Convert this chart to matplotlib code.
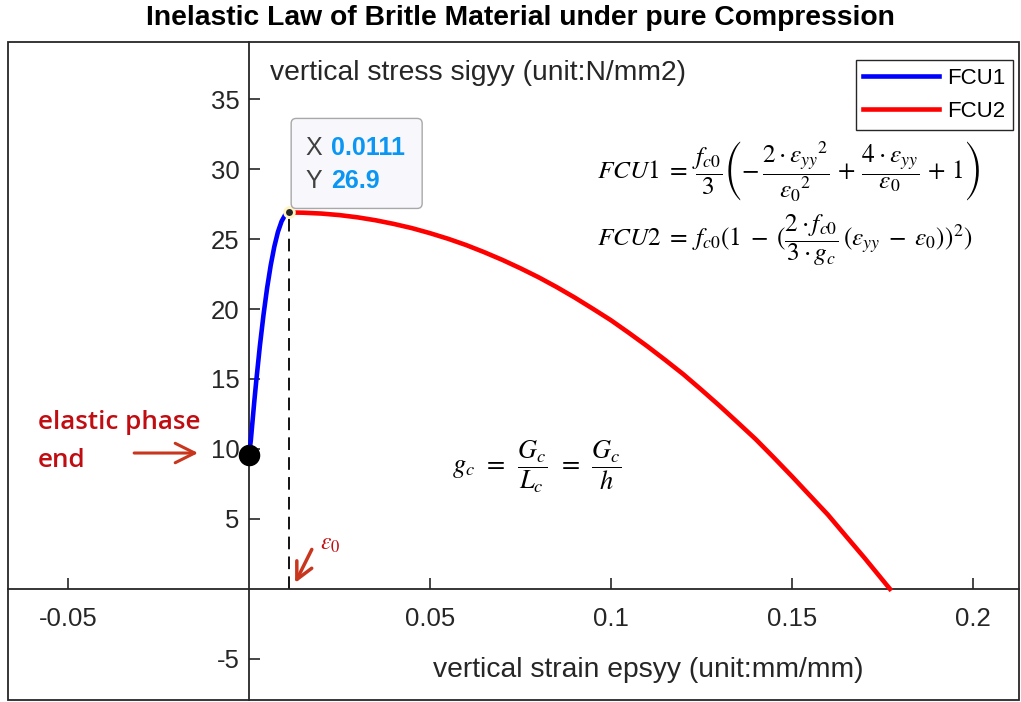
import matplotlib
matplotlib.use("Agg")
import matplotlib.pyplot as plt
import matplotlib.transforms as mtransforms
from matplotlib.patches import FancyBboxPatch, Rectangle

plt.rcParams['font.family'] = ['Liberation Sans', 'DejaVu Sans']
plt.rcParams['mathtext.fontset'] = 'stix'
plt.rcParams['axes.unicode_minus'] = False

# values
fcu1_strain = [0.0, 0.0005, 0.001, 0.0015, 0.002, 0.003, 0.004, 0.005, 0.006,
               0.007, 0.008, 0.009, 0.010, 0.0111]
fcu1_stress = [9.6, 10.6, 12.05, 13.49, 14.84, 17.35, 19.56, 21.49, 23.12,
               24.46, 25.51, 26.26, 26.73, 26.9]

fcu2_strain = [0.0111, 0.015, 0.02, 0.025, 0.03, 0.035, 0.04, 0.045, 0.05, 0.055,
               0.06, 0.065, 0.07, 0.075, 0.08, 0.085, 0.09, 0.095, 0.10, 0.105,
               0.11, 0.115, 0.12, 0.125, 0.13, 0.135, 0.14, 0.145, 0.15, 0.155,
               0.16, 0.165, 0.17, 0.175, 0.1771]
fcu2_stress = [26.9, 26.88, 26.82, 26.71, 26.55, 26.34, 26.08, 25.78, 25.42, 25.02,
               24.57, 24.06, 23.51, 22.91, 22.27, 21.57, 20.82, 20.02, 19.2, 18.29,
               17.35, 16.36, 15.34, 14.23, 13.09, 11.9, 10.7, 9.39, 8.05, 6.67,
               5.29, 3.76, 2.24, 0.66, 0.0]

eps0 = 0.0111
fc0 = 26.9
elastic_end = (0.0, 9.6)

xticks = [-0.05, 0.05, 0.1, 0.15, 0.2]
xticklabels = ['-0.05', '0.05', '0.1', '0.15', '0.2']
yticks = [-5, 5, 10, 15, 20, 25, 30, 35]

dark = '#262626'
red_txt = '#c00d12'
red_arrow = '#c8361e'

fig = plt.figure(figsize=(10.21, 7.02), dpi=100)
ax = fig.add_axes([0.0078, 0.003, 0.990, 0.937])
ax.set_xlim(-0.0666, 0.2127)
ax.set_ylim(-7.93, 39.07)

# origin axes, MATLAB style
for s in ['left', 'bottom']:
    ax.spines[s].set_position(('data', 0))
    ax.spines[s].set_color(dark)
    ax.spines[s].set_linewidth(1.3)
for s in ['top', 'right']:
    ax.spines[s].set_visible(False)
ax.add_patch(Rectangle((0, 0), 1, 1, transform=ax.transAxes, fill=False,
                       edgecolor=dark, linewidth=1.3, clip_on=False, zorder=5))

ax.set_xticks(xticks)
ax.set_xticklabels(xticklabels)
ax.set_yticks(yticks)
ax.tick_params(direction='in', length=8, width=1.2, colors=dark, labelsize=18.5)
ax.tick_params(axis='x', pad=13)
ax.tick_params(axis='y', pad=7)

# curves
ax.plot(fcu1_strain, fcu1_stress, color='#0000ff', lw=3.3, label='FCU1', zorder=3,
        solid_joinstyle='round')
ax.plot(fcu2_strain, fcu2_stress, color='#ff0000', lw=3.3, label='FCU2', zorder=3,
        solid_joinstyle='round')
ax.plot([eps0, eps0], [0, fc0], color='black', lw=1.3, ls=(0, (7, 4)), zorder=2)
ax.plot(*elastic_end, 'o', color='black', markersize=14.5, zorder=4, clip_on=False)
ax.plot(eps0, fc0, 'o', markersize=7, mfc=dark, mec='#fff4c2', mew=2, zorder=6)

# data tip
tip = fig.dpi_scale_trans + mtransforms.ScaledTranslation(eps0, fc0, ax.transData)
ax.add_patch(FancyBboxPatch((0.02, 0.04), 1.31, 0.90, boxstyle='round,pad=0.0,rounding_size=0.05',
                            transform=tip, facecolor='#f8f8fc', edgecolor='#a8a8a8',
                            linewidth=1.0, zorder=7, clip_on=False))
ax.text(0.16, 0.64, 'X', transform=tip, fontsize=18, color='#404040', va='center', zorder=8)
ax.text(0.42, 0.64, '0.0111', transform=tip, fontsize=18, color='#0a96f2',
        fontweight='bold', va='center', zorder=8)
ax.text(0.16, 0.31, 'Y', transform=tip, fontsize=18, color='#404040', va='center', zorder=8)
ax.text(0.42, 0.31, '26.9', transform=tip, fontsize=18, color='#0a96f2',
        fontweight='bold', va='center', zorder=8)

# axis labels inside plot
ax.text(0.0058, 36.86, 'vertical stress sigyy (unit:N/mm2)', fontsize=20.3, color=dark,
        ha='left', va='center')
ax.text(0.1102, -5.79, 'vertical strain epsyy (unit:mm/mm)', fontsize=20.3, color=dark,
        ha='center', va='center')

# annotations
ax.text(-0.0583, 11.9, 'elastic phase', fontsize=18.7, color=red_txt, family='Open Sans',
        fontweight='semibold', ha='left', va='center')
ax.text(-0.0583, 9.2, 'end', fontsize=18.7, color=red_txt, family='Open Sans',
        fontweight='semibold', ha='left', va='center')
ax.annotate('', xy=(-0.0133, 9.71), xytext=(-0.0325, 9.71),
            arrowprops=dict(arrowstyle='->,head_length=0.7,head_width=0.35',
                            color=red_arrow, lw=2.2, mutation_scale=20))
ax.annotate('', xy=(0.0124, 0.25), xytext=(0.0177, 3.0),
            arrowprops=dict(arrowstyle='->,head_length=0.6,head_width=0.3',
                            color=red_arrow, lw=2.5, mutation_scale=20))
ax.text(0.0196, 3.2, r'$\varepsilon_0$', fontsize=17, color=red_txt, ha='left', va='center')

# equations
ax.text(0.0961, 29.8,
        r'$FCU1\;=\;\dfrac{f_{c0}}{3}\left(-\,\dfrac{2\cdot{\varepsilon_{yy}}^2}{{\varepsilon_0}^2}'
        r'\,+\,\dfrac{4\cdot\varepsilon_{yy}}{\varepsilon_0}\,+\,1\right)$',
        fontsize=18.3, color='black', ha='left', va='center')
ax.text(0.0961, 24.9,
        r'$FCU2\;=\;f_{c0}(1\;-\;(\dfrac{2\cdot f_{c0}}{3\cdot g_c}\,(\varepsilon_{yy}\;-\;\varepsilon_0))^2)$',
        fontsize=18.3, color='black', ha='left', va='center')
ax.text(0.0561, 8.7, r'$g_c\;\,=\;\,\dfrac{G_c}{L_c}\;\,=\;\,\dfrac{G_c}{h}$',
        fontsize=19, color='black', ha='left', va='center')

leg = ax.legend(loc='upper right', bbox_to_anchor=(0.994, 0.973), borderaxespad=0,
                fontsize=16, handlelength=3.4, handletextpad=0.35, fancybox=False,
                edgecolor=dark, framealpha=1, borderpad=0.35, labelspacing=0.55)
leg.get_frame().set_linewidth(1.0)

fig.text(0.51, 0.974, 'Inelastic Law of Britle Material under pure Compression',
         fontsize=20.3, fontweight='bold', ha='center', va='center', color='black')

fig.savefig('out.png', dpi=100)
